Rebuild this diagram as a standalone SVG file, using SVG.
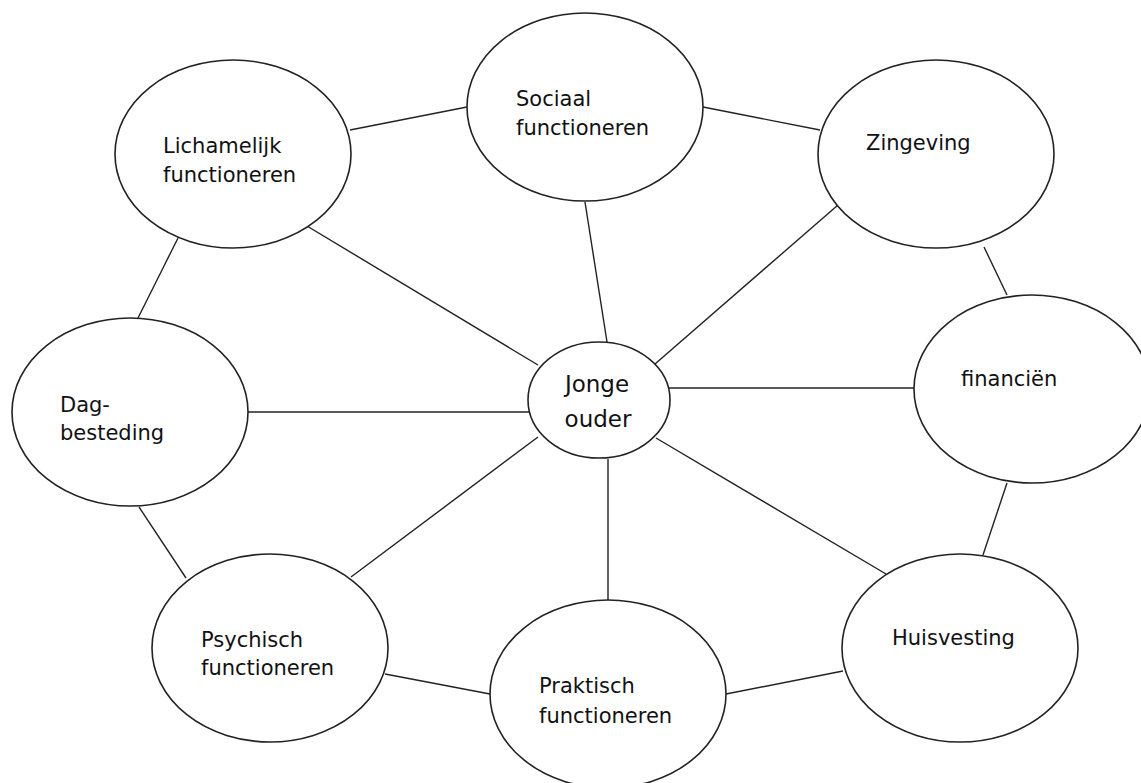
<svg xmlns="http://www.w3.org/2000/svg" width="1141" height="783" viewBox="0 0 1141 783">
<style>
.n ellipse{fill:#fff;stroke:#222;stroke-width:1.6}
.c line{stroke:#222;stroke-width:1.4}
text{font-family:"DejaVu Sans","Liberation Sans",sans-serif;font-size:21px;fill:#111}
.big{font-size:23px}
</style>
<rect width="1141" height="783" fill="#fff"/>
<g id="connectors" class="c">
<line x1="350" y1="130" x2="467" y2="107"/>
<line x1="703" y1="107" x2="820" y2="130"/>
<line x1="178" y1="238" x2="138" y2="318"/>
<line x1="307" y1="226" x2="538" y2="365"/>
<line x1="585" y1="202" x2="607" y2="342"/>
<line x1="838" y1="205" x2="655" y2="364"/>
<line x1="984" y1="247" x2="1007" y2="295"/>
<line x1="669" y1="388" x2="914" y2="388"/>
<line x1="247" y1="412" x2="529" y2="412"/>
<line x1="139" y1="507" x2="186" y2="578"/>
<line x1="351" y1="577" x2="538" y2="437"/>
<line x1="385" y1="674" x2="490" y2="694"/>
<line x1="608" y1="459" x2="608" y2="600"/>
<line x1="656" y1="438" x2="886" y2="574"/>
<line x1="1007" y1="483" x2="983" y2="555"/>
<line x1="726" y1="694" x2="843" y2="671"/>
</g>
<g id="lichamelijk" class="n"><ellipse cx="233" cy="154" rx="118" ry="94"/><text x="163" y="153">Lichamelijk</text><text x="163" y="182">functioneren</text></g>
<g id="sociaal" class="n"><ellipse cx="585" cy="107" rx="118" ry="94"/><text x="516" y="106">Sociaal</text><text x="516" y="135">functioneren</text></g>
<g id="zingeving" class="n"><ellipse cx="936" cy="154" rx="118" ry="94"/><text x="866" y="150">Zingeving</text></g>
<g id="financien" class="n"><ellipse cx="1032" cy="389" rx="118" ry="94"/><text x="961" y="386">financiën</text></g>
<g id="dagbesteding" class="n"><ellipse cx="130" cy="412" rx="118" ry="94"/><text x="60" y="412">Dag-</text><text x="60" y="440">besteding</text></g>
<g id="psychisch" class="n"><ellipse cx="270" cy="648" rx="118" ry="94"/><text x="201" y="647">Psychisch</text><text x="201" y="675">functioneren</text></g>
<g id="praktisch" class="n"><ellipse cx="608" cy="694" rx="118" ry="94"/><text x="539" y="693">Praktisch</text><text x="539" y="723">functioneren</text></g>
<g id="huisvesting" class="n"><ellipse cx="960" cy="648" rx="118" ry="94"/><text x="892" y="645">Huisvesting</text></g>
<g id="jonge-ouder" class="n"><ellipse cx="599" cy="400" rx="71" ry="58"/><text class="big" x="597" y="392" text-anchor="middle">Jonge</text><text class="big" x="598" y="427" text-anchor="middle">ouder</text></g>
</svg>
